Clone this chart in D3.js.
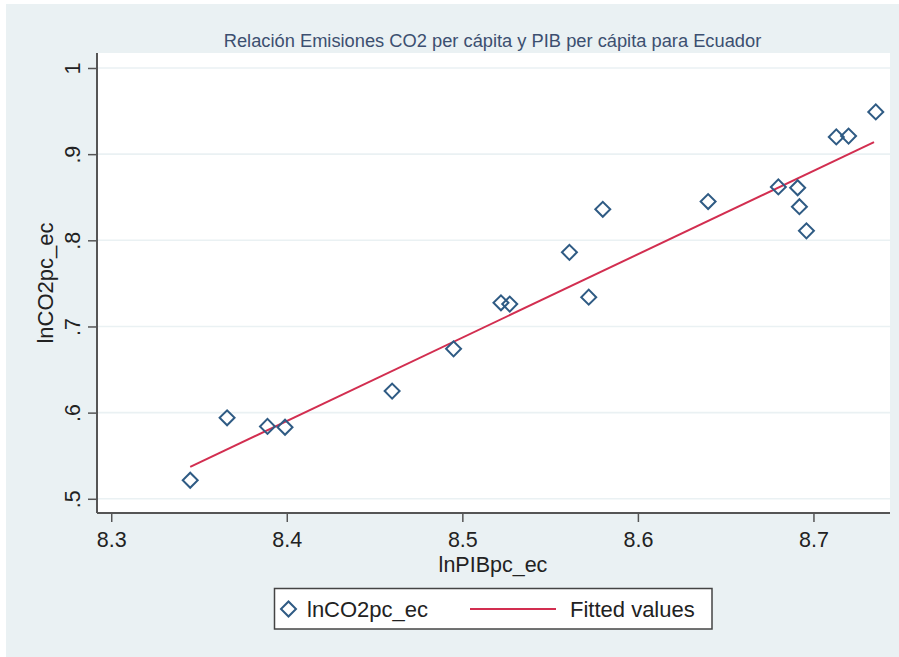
<!DOCTYPE html>
<html>
<head>
<meta charset="utf-8">
<script src="https://cdn.jsdelivr.net/npm/d3@7"></script>
<style>
  body { margin: 0; background: #fff; }
  svg { display: block; font-family: "Liberation Sans", Arial, sans-serif; }
</style>
</head>
<body>
<svg id="chart"></svg>
<script>
// lnPIBpc_ec / lnCO2pc_ec pairs
const xVals = [8.345, 8.366, 8.389, 8.399, 8.460, 8.495, 8.522, 8.527, 8.561, 8.572,
               8.580, 8.640, 8.680, 8.691, 8.692, 8.696, 8.713, 8.720, 8.7355];
const yVals = [0.5215, 0.594, 0.584, 0.583, 0.625, 0.674, 0.7275, 0.726, 0.786, 0.734,
               0.836, 0.845, 0.862, 0.861, 0.839, 0.811, 0.920, 0.921, 0.949];

// fitted line endpoints
const fitX = [8.345, 8.7345];
const fitY = [0.537, 0.914];

const xTicks = [8.3, 8.4, 8.5, 8.6, 8.7];
const yTicks = [0.5, 0.6, 0.7, 0.8, 0.9, 1];
const yTickLabels = [".5", ".6", ".7", ".8", ".9", "1"];

const width = 899;
const height = 657;
const plot = { left: 97, right: 890, top: 53, bottom: 513 };

const navy = "#2f5b84";
const red = "#d22e50";
const bg = "#eaf1f3";

const svg = d3.select("#chart")
  .attr("width", width)
  .attr("height", height);

svg.append("rect")
  .attr("x", 6).attr("y", 4)
  .attr("width", width - 6).attr("height", height - 4)
  .attr("fill", bg);

svg.append("rect")
  .attr("x", plot.left).attr("y", plot.top)
  .attr("width", plot.right - plot.left)
  .attr("height", plot.bottom - plot.top)
  .attr("fill", "#fff");

const x = d3.scaleLinear()
  .domain([8.2919, 8.7436])
  .range([plot.left, plot.right]);

const y = d3.scaleLinear()
  .domain([0.4835, 1.0174])
  .range([plot.bottom, plot.top]);

// grid
svg.append("g")
  .selectAll("line")
  .data(yTicks)
  .join("line")
  .attr("x1", plot.left).attr("x2", plot.right)
  .attr("y1", d => y(d)).attr("y2", d => y(d))
  .attr("stroke", bg)
  .attr("stroke-width", 1.6);

// fitted values
svg.append("path")
  .datum(d3.zip(fitX, fitY))
  .attr("fill", "none")
  .attr("stroke", red)
  .attr("stroke-width", 2)
  .attr("d", d3.line().x(d => x(d[0])).y(d => y(d[1])));

// scatter diamonds
const diamond = d3.symbol().type(d3.symbolSquare).size(112);

svg.append("g")
  .selectAll("path")
  .data(d3.zip(xVals, yVals))
  .join("path")
  .attr("d", diamond)
  .attr("transform", d => `translate(${x(d[0])},${y(d[1])}) rotate(45)`)
  .attr("fill", "none")
  .attr("stroke", navy)
  .attr("stroke-width", 2);

// axes
const axisColor = "#555";
const tickFont = 21.5;

const yAxis = svg.append("g")
  .attr("transform", `translate(${plot.left},0)`)
  .call(d3.axisLeft(y)
    .tickValues(yTicks)
    .tickSize(9)
    .tickSizeOuter(0)
    .tickFormat((d, i) => yTickLabels[i]));

yAxis.select(".domain")
  .attr("d", `M0,${plot.top}V${plot.bottom}`)
  .attr("stroke", axisColor).attr("stroke-width", 2);
yAxis.selectAll(".tick line").attr("stroke", axisColor).attr("stroke-width", 1.5);
yAxis.selectAll(".tick text")
  .attr("x", 0).attr("y", -17).attr("dy", null)
  .attr("transform", "rotate(-90)")
  .attr("text-anchor", "middle")
  .attr("fill", "#222")
  .style("font-size", tickFont + "px")
  .style("font-family", "'Liberation Sans', Arial, sans-serif");

const xAxis = svg.append("g")
  .attr("transform", `translate(0,${plot.bottom})`)
  .call(d3.axisBottom(x)
    .tickValues(xTicks)
    .tickSize(9)
    .tickSizeOuter(0)
    .tickFormat(d3.format(".1f")));

xAxis.select(".domain")
  .attr("d", `M${plot.left},0H${plot.right}`)
  .attr("stroke", axisColor).attr("stroke-width", 2);
xAxis.selectAll(".tick line").attr("stroke", axisColor).attr("stroke-width", 1.5);
xAxis.selectAll(".tick text")
  .attr("y", 34).attr("dy", null)
  .attr("fill", "#222")
  .style("font-size", tickFont + "px")
  .style("font-family", "'Liberation Sans', Arial, sans-serif");

// titles
svg.append("text")
  .attr("x", 492.5).attr("y", 47)
  .attr("text-anchor", "middle")
  .attr("fill", "#3c4f70")
  .style("font-size", "18.3px")
  .text("Relación Emisiones CO2 per cápita y PIB per cápita para Ecuador");

svg.append("text")
  .attr("x", 493).attr("y", 571.5)
  .attr("text-anchor", "middle")
  .attr("fill", "#222")
  .style("font-size", "21.5px")
  .text("lnPIBpc_ec");

svg.append("text")
  .attr("transform", `translate(53,283) rotate(-90)`)
  .attr("text-anchor", "middle")
  .attr("fill", "#222")
  .style("font-size", "22px")
  .text("lnCO2pc_ec");

// legend
const legend = svg.append("g");

legend.append("rect")
  .attr("x", 274.5).attr("y", 588.5)
  .attr("width", 437.5).attr("height", 40.5)
  .attr("fill", "#fff")
  .attr("stroke", "#444")
  .attr("stroke-width", 1.5);

legend.append("path")
  .attr("d", diamond)
  .attr("transform", "translate(288.5,609) rotate(45)")
  .attr("fill", "none")
  .attr("stroke", navy)
  .attr("stroke-width", 2);

legend.append("text")
  .attr("x", 307).attr("y", 617)
  .attr("fill", "#222")
  .style("font-size", "22px")
  .text("lnCO2pc_ec");

legend.append("line")
  .attr("x1", 470).attr("x2", 556)
  .attr("y1", 609).attr("y2", 609)
  .attr("stroke", red)
  .attr("stroke-width", 2);

legend.append("text")
  .attr("x", 570).attr("y", 617)
  .attr("fill", "#222")
  .style("font-size", "22px")
  .text("Fitted values");
</script>
</body>
</html>
